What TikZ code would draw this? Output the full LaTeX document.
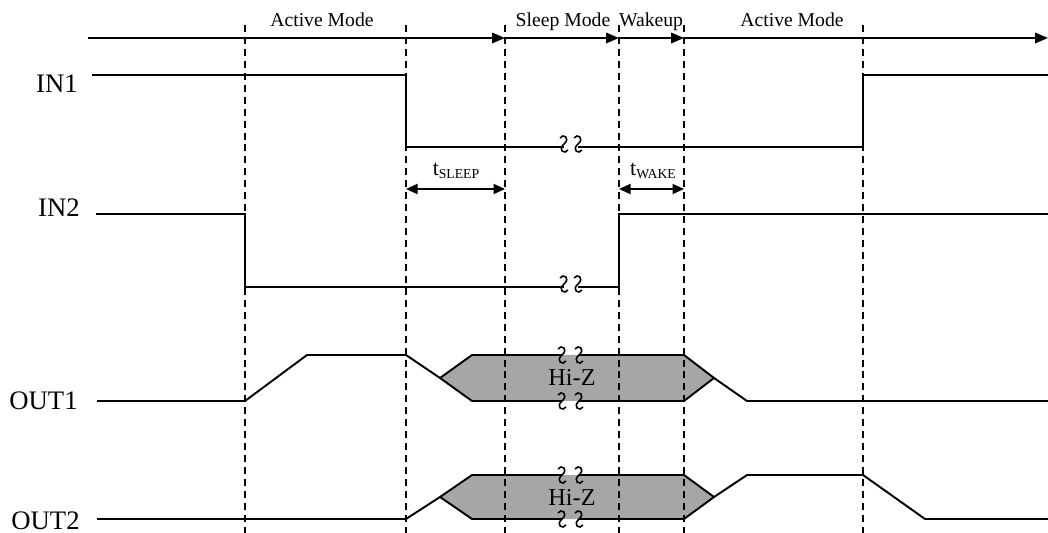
\documentclass[tikz,border=0pt]{standalone}
\usepackage{fontspec}
\setmainfont{Liberation Serif}
\usetikzlibrary{arrows.meta}
\tikzset{
  sig/.style={line width=1.1pt, line join=miter},
  guide/.style={line width=0.85pt, dash pattern=on 4pt off 2.8pt},
  tick/.style={line width=1.1pt, -{Triangle[length=2.6mm,width=2.1mm]}},
  span/.style={line width=1.1pt, {Triangle[length=2.3mm,width=2mm]}-{Triangle[length=2.3mm,width=2mm]}},
  hiz/.style={fill=black!35},
  squig/.style={line width=0.9pt},
  modelabel/.style={anchor=base, font=\fontsize{11.2}{13}\selectfont, inner sep=0pt},
  siglabel/.style={anchor=base east, font=\fontsize{15.2}{17}\selectfont, inner sep=0pt},
  hizlabel/.style={anchor=base, font=\fontsize{13.8}{15}\selectfont, inner sep=0pt},
  timelabel/.style={anchor=base, font=\fontsize{12.5}{14}\selectfont, inner sep=0pt}
}
\newcommand{\squiggle}[2]{%
  \draw[squig] ({#1-4},{#2-6}) .. controls ({#1-1},{#2-11}) and ({#1+7},{#2-6}) .. (#1,#2)
    .. controls ({#1-7},{#2+6}) and ({#1+1},{#2+11}) .. ({#1+4},{#2+6});}
\newcommand{\subtext}[1]{\raisebox{-1.2pt}{\fontsize{7.8}{8}\selectfont #1}}
\begin{document}
\begin{tikzpicture}[x=0.02cm, y=-0.02cm]
  \useasboundingbox (0,0) rectangle (1048,533);
  % hi-z bodies
  \fill[hiz] (440,378) -- (472,355) -- (684,355) -- (714,378) -- (684,401) -- (472,401) -- cycle;
  \fill[hiz] (440,497) -- (472,475) -- (684,475) -- (714,497) -- (684,519) -- (472,519) -- cycle;
  % guides
  \foreach \x in {245,406,505,619,684,863}
    \draw[guide] (\x,25) -- (\x,533);
  % time axis
  \coordinate (m0) at (88,38);
  \coordinate (m1) at (505,38);
  \coordinate (m2) at (619,38);
  \coordinate (m3) at (684,38);
  \coordinate (m4) at (1048,38);
  \draw[tick] (m0) -- (m1);
  \draw[tick] (m1) -- (m2);
  \draw[tick] (m2) -- (m3);
  \draw[tick] (m3) -- (m4);
  \node[modelabel] (act1) at (322,27) {Active Mode};
  \node[modelabel] (sleep) at (563,27) {Sleep Mode};
  \node[modelabel] (wake) at (651,27) {Wakeup};
  \node[modelabel] (act2) at (792,27) {Active Mode};
  % inputs
  \node[siglabel] (in1) at (78,93) {IN1};
  \draw[sig] (92,75) -- (406,75) -- (406,147) -- (564,147);
  \draw[sig] (578,147) -- (863,147) -- (863,75) -- (1048,75);
  \node[siglabel] (in2) at (80,217) {IN2};
  \draw[sig] (96,214) -- (245,214) -- (245,287) -- (564,287);
  \draw[sig] (578,287) -- (619,287) -- (619,214) -- (1048,214);
  \foreach \y in {147,287}
  {\squiggle{564}{\y-3}
   \squiggle{578}{\y-3}};
  % timing spans
  \coordinate (s0) at (406,189);
  \coordinate (s1) at (505,189);
  \coordinate (w0) at (619,189);
  \coordinate (w1) at (684,189);
  \draw[span] (s0) -- (s1);
  \draw[span] (w0) -- (w1);
  \node[timelabel] (tsleep) at (456,176) {t\subtext{SLEEP}};
  \node[timelabel] (twake) at (653,176) {t\subtext{WAKE}};
  % outputs
  \node[siglabel] (out1) at (78,410) {OUT1};
  \draw[sig] (97,401) -- (245,401) -- (307,355) -- (406,355) -- (440,378) -- (472,401) -- (562,401);
  \draw[sig] (579,401) -- (684,401) -- (714,378) -- (747,401) -- (1048,401);
  \draw[sig] (440,378) -- (472,355) -- (562,355);
  \draw[sig] (579,355) -- (684,355) -- (714,378);
  \node[hizlabel] (hiz1) at (572,386) {Hi-Z};
  \node[siglabel] (out2) at (80,529) {OUT2};
  \draw[sig] (97,519) -- (406,519) -- (440,497) -- (472,475) -- (562,475);
  \draw[sig] (579,475) -- (684,475) -- (714,497) -- (747,475) -- (863,475) -- (925,519) -- (1048,519);
  \draw[sig] (440,497) -- (472,519) -- (562,519);
  \draw[sig] (579,519) -- (684,519) -- (714,497);
  \node[hizlabel] (hiz2) at (572,505) {Hi-Z};
  \foreach \y in {355,401,475,519}
  {\squiggle{562}{\y}
   \squiggle{579}{\y}};
\end{tikzpicture}
\end{document}
